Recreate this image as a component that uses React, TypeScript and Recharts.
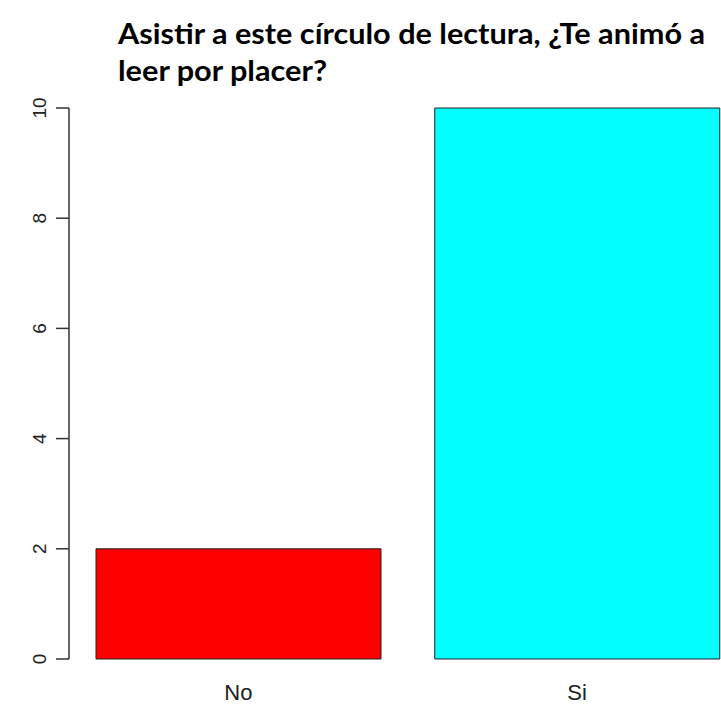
import { Bar, BarChart, Cell, XAxis, YAxis } from "recharts";

const categories = ["No", "Si"];
const counts = [2, 10];
const barColors = ["#ff0000", "#00ffff"];
const yTicks = [0, 2, 4, 6, 8, 10];
const titleLines = [
  "Asistir a este círculo de lectura, ¿Te animó a",
  "leer por placer?",
];

const data = categories.map((name, i) => ({ name, count: counts[i] }));

const axisFont = "'Liberation Sans', Arial, sans-serif";
const titleFont = "Lato, 'Open Sans', sans-serif";

const YTick = ({ y, payload }: any) => (
  <text
    x={0}
    y={0}
    transform={`translate(39, ${y}) rotate(-90)`}
    textAnchor="middle"
    dominantBaseline="central"
    fontFamily={axisFont}
    fontSize={19}
    fill="#222"
  >
    {payload.value}
  </text>
);

const XTick = ({ x, payload }: any) => (
  <text
    x={x}
    y={700}
    textAnchor="middle"
    fontFamily={axisFont}
    fontSize={22}
    fill="#222"
  >
    {payload.value}
  </text>
);

export default function App() {
  return (
    <div
      style={{
        position: "absolute",
        left: 0,
        top: 0,
        width: 721,
        height: 719,
        overflow: "hidden",
        background: "#fff",
      }}
    >
      <BarChart
        width={750}
        height={719}
        data={data}
        margin={{ top: 108, right: 3.5, left: 0, bottom: 0 }}
      >
        <YAxis
          width={69}
          domain={[0, 10]}
          ticks={yTicks}
          tickSize={13}
          axisLine={{ stroke: "#333", strokeWidth: 1.5 }}
          tickLine={{ stroke: "#333", strokeWidth: 1.5 }}
          tick={<YTick />}
          interval={0}
        />
        <XAxis
          dataKey="name"
          height={60}
          axisLine={false}
          tickLine={false}
          tick={<XTick />}
        />
        <Bar
          dataKey="count"
          barSize={285}
          stroke="#222"
          strokeWidth={1}
          isAnimationActive={false}
        >
          {data.map((d, i) => (
            <Cell key={d.name} fill={barColors[i]} />
          ))}
        </Bar>
      </BarChart>
      <svg
        width={721}
        height={100}
        style={{ position: "absolute", left: 0, top: 0 }}
      >
        <text
          x={118}
          y={44}
          fontFamily={titleFont}
          fontWeight="bold"
          fontSize={28}
          textLength={587}
          lengthAdjust="spacingAndGlyphs"
          fill="#000"
        >
          {titleLines[0]}
        </text>
        <text
          x={118}
          y={81}
          fontFamily={titleFont}
          fontWeight="bold"
          fontSize={28}
          textLength={209}
          lengthAdjust="spacingAndGlyphs"
          fill="#000"
        >
          {titleLines[1]}
        </text>
      </svg>
    </div>
  );
}
